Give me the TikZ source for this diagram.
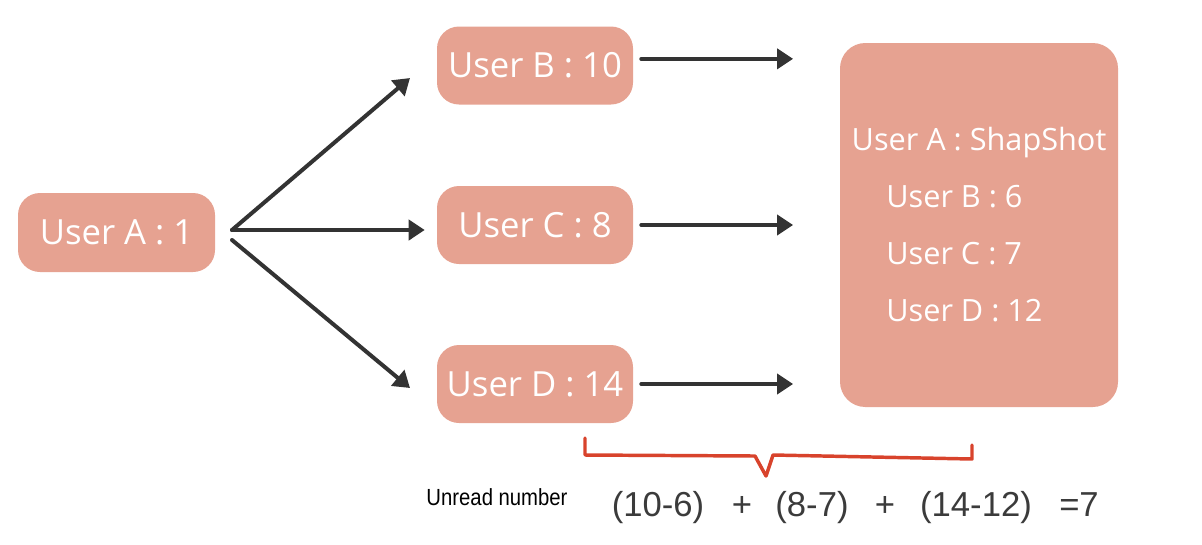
\documentclass[tikz,border=0pt]{standalone}
\usepackage{fontspec}
\setmainfont{Open Sans}
\newfontfamily\eqfont{Liberation Sans}
\newfontfamily\tagfont[FakeStretch=0.87]{Liberation Sans}
\usetikzlibrary{arrows.meta}
\definecolor{boxfill}{RGB}{230,162,145}
\definecolor{arrowgray}{RGB}{51,51,51}
\definecolor{bracered}{RGB}{216,67,44}
\definecolor{eqgray}{RGB}{59,59,59}
\tikzset{
  userbox/.style={fill=boxfill, rounded corners=16.5pt, text=white, minimum width=147pt, minimum height=58.5pt, font=\fontsize{26}{30}\selectfont},
  flow/.style={draw=arrowgray, line width=3pt, line cap=round, -{Triangle[length=12pt,width=15pt]}},
  eqtext/.style={text=eqgray, anchor=base, font=\eqfont\fontsize{26}{30}\selectfont},
}

\begin{document}
\begin{tikzpicture}[x=0.75pt,y=0.75pt,yscale=-1,xscale=1]
\useasboundingbox (0,0) rectangle (1202,544);

% User boxes
\node [userbox, minimum width=147.75pt, minimum height=59.25pt] (userA) at (116.5,232.5) {User A : 1};
\node [userbox] (userB) at (535,65.5) {User B : 10};
\node [userbox] (userC) at (535,225) {User C : 8};
\node [userbox] (userD) at (535,384) {User D : 14};

% Snapshot box
\node [userbox, rounded corners=19pt, minimum width=208.5pt, minimum height=273pt, align=left, font=\fontsize{23}{42.75}\selectfont] (snap) at (979,225) {User A : ShapShot\\\hspace*{26pt}User B : 6\\\hspace*{26pt}User C : 7\\\hspace*{26pt}User D : 12};

% Fan out from A
\coordinate (fork) at (232,230);
\coordinate (forkD) at (232,240);
\coordinate (tipB) at (410,78);
\coordinate (tipD) at (410,388);
\draw [flow] (fork) -- (tipB);
\draw [flow, shorten >=9pt] (fork) -- (fork -| userC.west);
\draw [flow] (forkD) -- (tipD);

% Into snapshot
\draw [flow, shorten <=6pt, shorten >=35pt] ([yshift=-5pt]userB.east) -- ([yshift=-5pt]userB.east -| snap.west);
\draw [flow, shorten <=6pt, shorten >=35pt] (userC.east) -- (userC.east -| snap.west);
\draw [flow, shorten <=6pt, shorten >=35pt] (userD.east) -- (userD.east -| snap.west);

% Brace
\draw [bracered, line width=2.6pt, line join=round, line cap=round] (585,438) -- (585,455) -- (755,456) -- (766,476) -- (773,455) -- (972,459) -- (972,445);

% Text Node
\node [anchor=base, font=\tagfont\fontsize{17.5}{20}\selectfont] (unread) at (497,505) {Unread number};
% Equation
\node [eqtext] (termB) at (658,516) {(10-6)};
\node [eqtext] (plus1) at (742,516) {+};
\node [eqtext] (termC) at (812,516) {(8-7)};
\node [eqtext] (plus2) at (885,516) {+};
\node [eqtext] (termD) at (976,516) {(14-12)};
\node [eqtext] (total) at (1079,516) {=7};

\end{tikzpicture}
\end{document}
